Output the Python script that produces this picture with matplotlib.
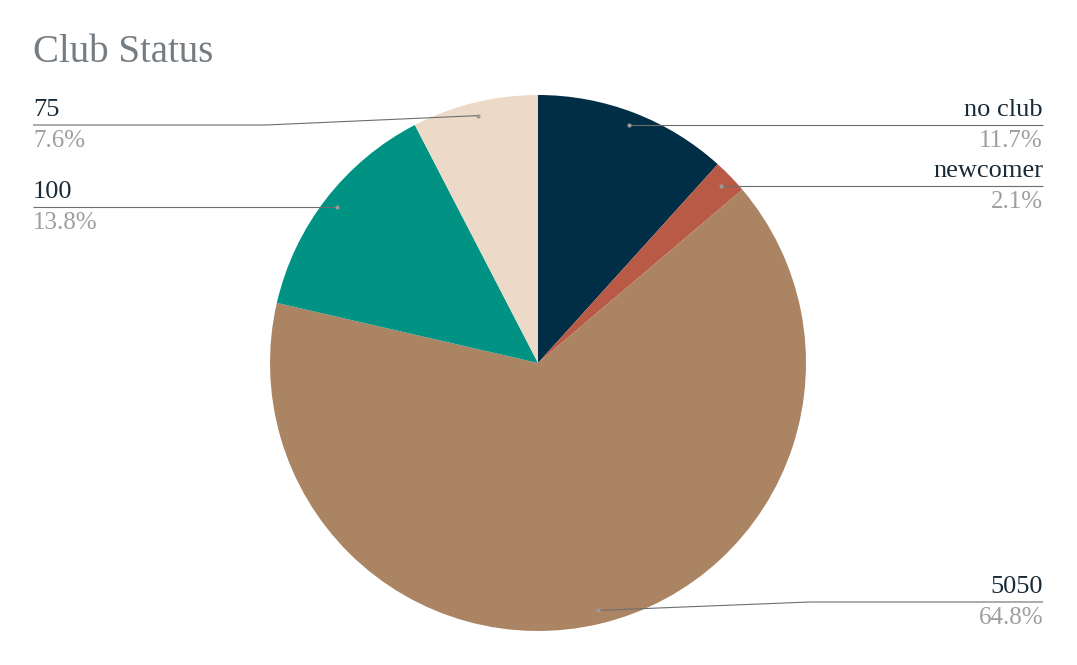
import numpy as np
import matplotlib.pyplot as plt

labels = ['no club', 'newcomer', '5050', '100', '75']
values = [11.7, 2.1, 64.8, 13.8, 7.6]
colors = ['#002e47', '#b85a45', '#ab8464', '#009384', '#edd9c8']

W, H = 1077, 665
cx, cy, R = 538, H - 363, 268

plt.rcParams['font.family'] = ['Liberation Serif', 'DejaVu Serif']

fig = plt.figure(figsize=(W / 100, H / 100), dpi=100)
ax = fig.add_axes([0, 0, 1, 1])

wedges, _ = ax.pie(values, colors=colors, startangle=90, counterclock=False,
                   center=(cx, cy), radius=R, frame=True,
                   wedgeprops=dict(linewidth=0))
ax.set_xlim(0, W)
ax.set_ylim(0, H)
ax.set_aspect('equal')
ax.axis('off')

fig.text(33 / W, 1 - 53 / H, 'Club Status', fontsize=28, color='#757c82',
         va='center', ha='left')

for w, lab, val in zip(wedges, labels, values):
    ang = np.deg2rad((w.theta1 + w.theta2) / 2)
    dx, dy = cx + 0.95 * R * np.cos(ang), cy + 0.95 * R * np.sin(ang)
    right = np.cos(ang) >= 0
    ly = np.clip(dy, H - 602, H - 125)
    ex = cx + 272 if right else cx - 272
    edge = 1043 if right else 33
    ax.plot([dx, ex, edge], [dy, ly, ly], color='#6d6d6d', lw=0.8,
            solid_capstyle='butt')
    ax.plot(dx, dy, 'o', ms=3, color='#9a9a9a', mec='none')
    ha = 'right' if right else 'left'
    ax.text(edge, ly + 4, lab, ha=ha, va='bottom', fontsize=19, color='#1a2b38')
    ax.text(edge, ly - 5, f'{val}%', ha=ha, va='top', fontsize=18, color='#9e9e9e')

fig.savefig('out.png', dpi=100, facecolor='white')
